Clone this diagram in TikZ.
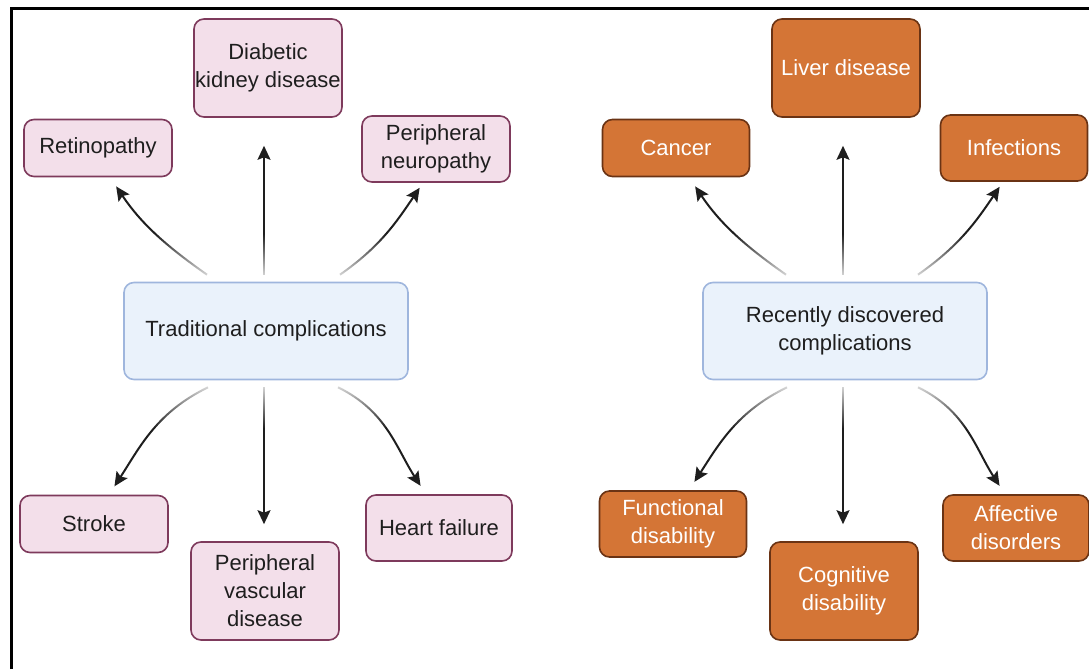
\documentclass[tikz,border=0pt]{standalone}
\usepackage{fontspec}
\setmainfont{Liberation Sans}
\usetikzlibrary{arrows.meta,fadings}

\definecolor{pinkfill}{HTML}{F3DFEA}
\definecolor{pinkline}{HTML}{7E3A5C}
\definecolor{orangefill}{HTML}{D47536}
\definecolor{orangeline}{HTML}{6A3314}
\definecolor{bluefill}{HTML}{EAF2FB}
\definecolor{blueline}{HTML}{9FB6DD}
\definecolor{inkgray}{HTML}{1E1E1E}

\tikzfading[name=fadeabove, top color=transparent!100, bottom color=transparent!10]
\tikzfading[name=fadebelow, top color=transparent!10, bottom color=transparent!100]

\tikzset{
  box/.style={rounded corners=10pt, line width=1.6pt, align=center, inner sep=0pt,
    minimum width=148pt, font=\fontsize{22}{28}\selectfont},
  oldbox/.style={box, draw=pinkline, fill=pinkfill, text=inkgray},
  newbox/.style={box, draw=orangeline, fill=orangefill, text=white},
  hubbox/.style={box, draw=blueline, fill=bluefill, text=inkgray,
    minimum width=284pt, minimum height=97pt},
  lowbox/.style={minimum height=57pt},
  midbox/.style={minimum height=66pt},
  highbox/.style={minimum height=98pt}
}

\begin{document}
\begin{tikzpicture}[x=1pt,y=1pt]

  \useasboundingbox (0,0) rectangle (1089,669);
  \draw[line width=3pt] (11,0) -- (11,660) -- (1089,660);

  % traditional
  \begin{scope}[every node/.style={oldbox}]
    \node[lowbox]  (reti)   at (98,521)  {Retinopathy};
    \node[highbox] (dkd)    at (268,601) {Diabetic\\kidney disease};
    \node[midbox]  (pneu)   at (436,520) {Peripheral\\neuropathy};
    \node[lowbox]  (stroke) at (94,145)  {Stroke};
    \node[highbox] (pvd)    at (265,78)  {Peripheral\\vascular\\disease};
    \node[midbox, minimum width=146pt] (hf) at (439,141) {Heart failure};
  \end{scope}

  % recently discovered
  \begin{scope}[every node/.style={newbox}]
    \node[lowbox, minimum width=147pt]  (cancer) at (676,521)  {Cancer};
    \node[highbox] (liver)  at (846,601)  {Liver disease};
    \node[midbox, minimum width=147pt]  (infect) at (1014,521) {Infections};
    \node[midbox, minimum width=147pt]  (func)   at (673,145)  {Functional\\disability};
    \node[highbox] (cogn)   at (844,78)   {Cognitive\\disability};
    \node[midbox, minimum width=146pt]  (affect) at (1016,141) {Affective\\disorders};
  \end{scope}

  \node[hubbox] (trad)   at (266,338) {Traditional complications};
  \node[hubbox] (recent) at (845,338) {Recently discovered\\complications};

  \begin{scope}[every edge/.style={draw=inkgray, line width=2pt,
      -{Stealth[length=14pt,width=13pt,inset=2.5pt]}}]
    \path ([xshift=-59pt,yshift=7pt]trad.north) edge[out=145,in=-56,shorten >=11pt] ([xshift=12pt]reti.south);
    \path ([xshift=-2pt,yshift=7pt]trad.north) edge[shorten >=28pt] ([xshift=-4pt]dkd.south);
    \path ([xshift=74pt,yshift=7pt]trad.north) edge[out=35,in=-124,shorten >=6pt] ([xshift=-13pt]pneu.south);
    \path ([xshift=-58pt,yshift=-7pt]trad.south) edge[out=-154,in=57,shorten >=10pt] ([xshift=15pt]stroke.north);
    \path ([xshift=-2pt,yshift=-7pt]trad.south) edge[shorten >=17pt] ([xshift=-1pt]pvd.north);
    \path ([xshift=72pt,yshift=-7pt]trad.south) edge[out=-26,in=123,shorten >=10pt] ([xshift=-13pt]hf.north);

    \path ([xshift=-59pt,yshift=7pt]recent.north) edge[out=145,in=-56,shorten >=11pt] ([xshift=13pt]cancer.south);
    \path ([xshift=-2pt,yshift=7pt]recent.north) edge[shorten >=28pt] ([xshift=-3pt]liver.south);
    \path ([xshift=73pt,yshift=7pt]recent.north) edge[out=35,in=-124,shorten >=6pt] ([xshift=-11pt]infect.south);
    \path ([xshift=-58pt,yshift=-7pt]recent.south) edge[out=-154,in=57,shorten >=10pt] ([xshift=16pt]func.north);
    \path ([xshift=-2pt,yshift=-7pt]recent.south) edge[shorten >=17pt] ([xshift=-1pt]cogn.north);
    \path ([xshift=73pt,yshift=-7pt]recent.south) edge[out=-26,in=123,shorten >=10pt] ([xshift=-11pt]affect.north);
  \end{scope}

  % soften the arrow tails
  \fill[white, path fading=fadeabove] ([yshift=2pt]trad.north west) rectangle ([yshift=48pt]trad.north east);
  \fill[white, path fading=fadebelow] ([yshift=-2pt]trad.south west) rectangle ([yshift=-48pt]trad.south east);
  \fill[white, path fading=fadeabove] ([yshift=2pt]recent.north west) rectangle ([yshift=48pt]recent.north east);
  \fill[white, path fading=fadebelow] ([yshift=-2pt]recent.south west) rectangle ([yshift=-48pt]recent.south east);

\end{tikzpicture}
\end{document}
